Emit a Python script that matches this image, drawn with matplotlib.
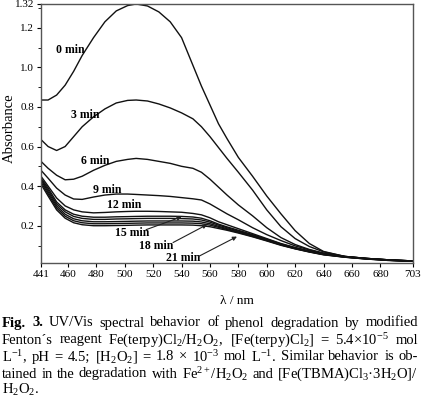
import numpy as np
import matplotlib
matplotlib.use("Agg")
import matplotlib.pyplot as plt
from matplotlib.ticker import FixedLocator

plt.rcParams['font.family'] = ['Liberation Serif', 'DejaVu Serif']
plt.rcParams['mathtext.fontset'] = 'custom'
plt.rcParams['mathtext.rm'] = 'Liberation Serif'
plt.rcParams['mathtext.it'] = 'Liberation Serif:italic'
plt.rcParams['mathtext.bf'] = 'Liberation Serif:bold'

# wavelength grid (nm)
wl = [441, 446, 452, 458, 464, 470, 478, 486, 494, 502, 508, 516, 524, 532, 540,
      548, 554, 560, 566, 572, 580, 590, 600, 610, 620, 630, 640, 655, 670, 685, 703]

# absorbance spectra
a0 = [0.835, 0.835, 0.86, 0.91, 0.98, 1.06, 1.15, 1.23, 1.285, 1.312, 1.32, 1.31, 1.28, 1.23, 1.15,
      1.01, 0.905, 0.81, 0.715, 0.64, 0.545, 0.45, 0.35, 0.26, 0.175, 0.11, 0.07, 0.045, 0.035, 0.028, 0.022]
a3 = [0.635, 0.60, 0.58, 0.60, 0.65, 0.70, 0.75, 0.79, 0.82, 0.833, 0.835, 0.83, 0.815, 0.795, 0.77,
      0.74, 0.70, 0.65, 0.595, 0.54, 0.47, 0.38, 0.28, 0.195, 0.135, 0.095, 0.068, 0.045, 0.035, 0.028, 0.022]
a6 = [0.525, 0.49, 0.455, 0.432, 0.435, 0.45, 0.48, 0.505, 0.525, 0.535, 0.54, 0.535, 0.525, 0.515, 0.50,
      0.49, 0.47, 0.435, 0.395, 0.355, 0.305, 0.25, 0.19, 0.14, 0.105, 0.08, 0.062, 0.045, 0.035, 0.028, 0.022]
a9 = [0.48, 0.44, 0.39, 0.355, 0.335, 0.333, 0.345, 0.355, 0.36, 0.36, 0.358, 0.355, 0.352, 0.348, 0.342,
      0.336, 0.33, 0.31, 0.285, 0.26, 0.23, 0.19, 0.155, 0.125, 0.098, 0.078, 0.06, 0.044, 0.035, 0.028, 0.022]
a12 = [0.45, 0.40, 0.34, 0.30, 0.28, 0.27, 0.265, 0.267, 0.27, 0.272, 0.273, 0.273, 0.272, 0.27, 0.268,
       0.262, 0.255, 0.24, 0.22, 0.205, 0.185, 0.16, 0.135, 0.11, 0.09, 0.073, 0.058, 0.043, 0.034, 0.027, 0.021]
a15 = [0.44, 0.39, 0.32, 0.28, 0.258, 0.248, 0.243, 0.243, 0.245, 0.246, 0.247, 0.248, 0.248, 0.248, 0.247,
       0.244, 0.238, 0.225, 0.208, 0.194, 0.177, 0.155, 0.132, 0.108, 0.088, 0.071, 0.057, 0.043, 0.034, 0.027, 0.021]
a_x1 = [0.435, 0.38, 0.31, 0.27, 0.247, 0.237, 0.232, 0.232, 0.234, 0.235, 0.236, 0.237, 0.237, 0.237, 0.236,
        0.234, 0.229, 0.218, 0.203, 0.19, 0.173, 0.152, 0.13, 0.106, 0.087, 0.07, 0.056, 0.042, 0.033, 0.026, 0.02]
a18 = [0.43, 0.37, 0.30, 0.258, 0.235, 0.225, 0.22, 0.22, 0.221, 0.222, 0.223, 0.224, 0.224, 0.224, 0.224,
       0.223, 0.219, 0.21, 0.197, 0.185, 0.169, 0.149, 0.127, 0.104, 0.085, 0.069, 0.055, 0.042, 0.033, 0.026, 0.02]
a_x2 = [0.42, 0.36, 0.29, 0.248, 0.225, 0.215, 0.21, 0.21, 0.211, 0.212, 0.213, 0.214, 0.214, 0.214, 0.214,
        0.213, 0.21, 0.203, 0.192, 0.181, 0.166, 0.146, 0.125, 0.103, 0.084, 0.068, 0.054, 0.041, 0.032, 0.025, 0.02]
a21 = [0.41, 0.35, 0.28, 0.238, 0.215, 0.205, 0.2, 0.2, 0.201, 0.202, 0.203, 0.204, 0.204, 0.204, 0.204,
       0.203, 0.2, 0.195, 0.186, 0.177, 0.163, 0.144, 0.123, 0.101, 0.083, 0.067, 0.053, 0.041, 0.032, 0.025, 0.02]

spectra = [a0, a3, a6, a9, a12, a15, a_x1, a18, a_x2, a21]

# curve labels: text, (x, y)
labels = [("0 min", (461.5, 1.088)), ("3 min", (472, 0.76)), ("6 min", (479, 0.527)),
          ("9 min", (487.5, 0.38)), ("12 min", (499.5, 0.305))]
arrow_labels = [("15 min", (505, 0.163), (515, 0.18), (540, 0.245)),
                ("18 min", (522, 0.098), (534, 0.115), (558, 0.206)),
                ("21 min", (541, 0.037), (552, 0.045), (579, 0.145))]

xticks = [441, 460, 480, 500, 520, 540, 560, 580, 600, 620, 640, 660, 680, 703]
yticks = [0.2, 0.4, 0.6, 0.8, 1.0, 1.2, 1.32]
ytick_labels = ["0.2", "0.4", "0.6", "0.8", "1.0", "1.2", "1.32"]

# caption lines: list of (word, bold)
caption = [
    [("Fig.", True), ("3.", True)] + [(w, False) for w in
        "UV/Vis spectral behavior of phenol degradation by modified".split(" ")],
    [(w, False) for w in
        r"Fenton´s reagent Fe(terpy)Cl$_2$/H$_2$O$_2$, [Fe(terpy)Cl$_2$] = 5.4×10$^{−5}$ mol".split(" ")],
    [(w, False) for w in
        r"L$^{−1}$, pH = 4.5; [H$_2$O$_2$] = 1.8 × 10$^{−3}$ mol L$^{−1}$. Similar behavior is ob-".split(" ")],
    [(w, False) for w in
        r"tained in the degradation with Fe$^{2+}$/H$_2$O$_2$ and [Fe(TBMA)Cl$_3$·3H$_2$O]/".split(" ")],
    [(r"H$_2$O$_2$.", False)],
]

fig = plt.figure(figsize=(4.21, 3.99), dpi=100)
ax = fig.add_axes([0.0974, 0.341, 0.8836, 0.649])

for s in spectra:
    ax.plot(wl, s, color='#111111', lw=1.0)

for txt, (x, y) in labels:
    ax.text(x, y, txt, fontsize=8.5, fontweight='bold', ha='center', va='center')
for txt, (x, y), (x0, y0), (x1, y1) in arrow_labels:
    ax.text(x, y, txt, fontsize=8.5, fontweight='bold', ha='center', va='center')
    ax.annotate("", xy=(x1, y1), xytext=(x0, y0),
                arrowprops=dict(arrowstyle='-|>', color='#222222', lw=0.8,
                                mutation_scale=6, shrinkA=0, shrinkB=0))

ax.set_xlim(441, 703)
ax.set_ylim(0.012, 1.32)
ax.xaxis.set_major_locator(FixedLocator(xticks))
ax.set_xticklabels([str(t) for t in xticks], fontsize=8)
ax.yaxis.set_major_locator(FixedLocator(yticks))
ax.set_yticklabels(ytick_labels, fontsize=8)
ax.yaxis.set_minor_locator(FixedLocator([0.1, 0.3, 0.5, 0.7, 0.9, 1.1, 1.3]))
ax.tick_params(direction='out', length=3, width=0.8, pad=2)
ax.tick_params(which='minor', direction='out', length=2, width=0.6)
for sp in ax.spines.values():
    sp.set_color('#555555')
    sp.set_linewidth(1.0)

ax.set_xlabel("λ / nm", fontsize=9.5)
ax.xaxis.set_label_coords((237 - 41) / 372, -(295 - 263) / 259)
ax.set_ylabel("Absorbance", fontsize=10.5)
ax.yaxis.set_label_coords(-(41 - 16) / 372, (263 - 128) / 259)

# justified caption
renderer = fig.canvas.get_renderer()
x_left, x_right = 2.0, 418.0
line_y = [323, 340, 357, 374, 390]
W, H = fig.bbox.width, fig.bbox.height
for i, line in enumerate(caption):
    objs = [fig.text(0, 1 - line_y[i] / H, w, fontsize=10.5, va='center', ha='left',
                     fontweight='bold' if b else 'normal') for w, b in line]
    widths = [o.get_window_extent(renderer).width for o in objs]
    if i < len(caption) - 1 and len(line) > 1:
        gap = (x_right - x_left - sum(widths)) / (len(line) - 1)
    else:
        gap = 3.5
    x = x_left
    for o, w in zip(objs, widths):
        o.set_x(x / W)
        x += w + gap

fig.savefig("out.png", dpi=100)
